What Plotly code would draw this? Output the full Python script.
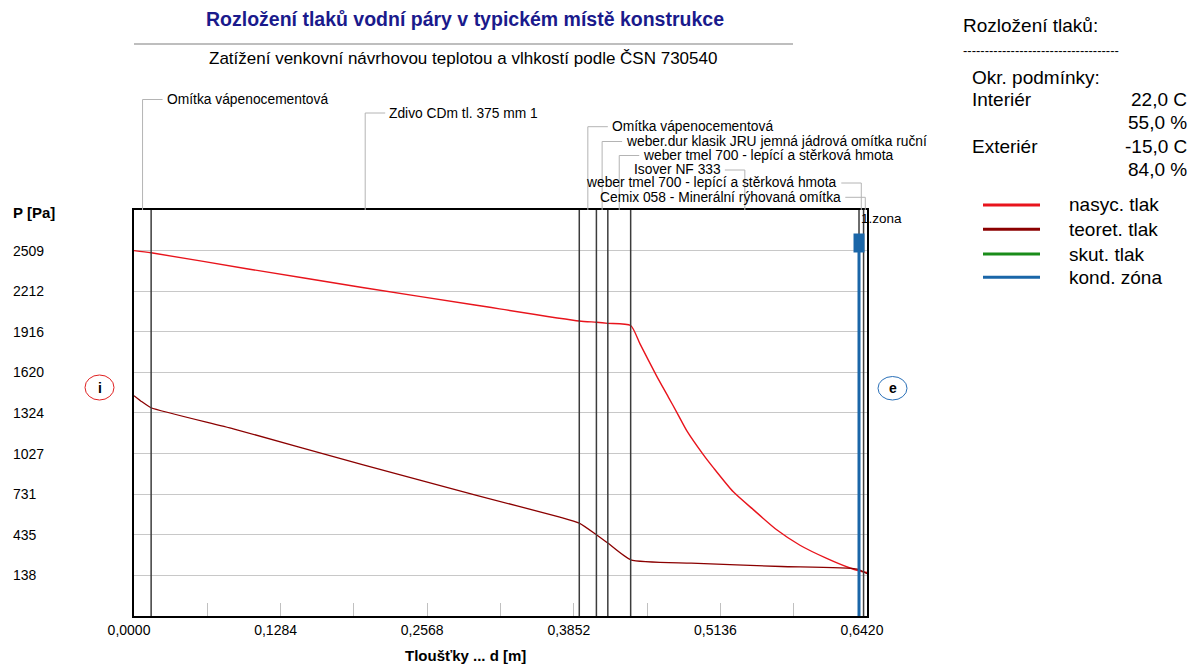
import plotly.graph_objects as go

# ---------------- data ----------------
layer_names = [
    "Omítka vápenocementová",
    "Zdivo CDm tl. 375 mm 1",
    "Omítka vápenocementová",
    "weber.dur klasik JRU jemná jádrová omítka ruční",
    "weber tmel 700 - lepící a stěrková hmota",
    "Isover NF 333",
    "weber tmel 700 - lepící a stěrková hmota",
    "Cemix 058 - Minerální rýhovaná omítka",
]
layer_thickness = [0.015, 0.375, 0.015, 0.010, 0.020, 0.200, 0.004, 0.003]

x_tick_vals = [0.0, 0.1284, 0.2568, 0.3852, 0.5136, 0.6420]
x_tick_text = ["0,0000", "0,1284", "0,2568", "0,3852", "0,5136", "0,6420"]
x_minor_step = 0.0642
y_tick_vals = [138, 435, 731, 1027, 1324, 1620, 1916, 2212, 2509]

nasyc_x = [0.0, 0.015, 0.1, 0.2, 0.3, 0.39, 0.405, 0.415, 0.435, 0.4432, 0.4578,
           0.468, 0.4753, 0.4841, 0.4986, 0.5074, 0.5249, 0.5424, 0.5629, 0.5833,
           0.6067, 0.6271, 0.635, 0.642]
nasyc_p = [2509, 2493, 2375, 2240, 2110, 1995, 1986, 1978, 1962, 1828, 1593,
           1440, 1330, 1195, 1020, 925, 748, 618, 471, 358,
           262, 192, 172, 159]

teoret_x = [0.0, 0.007, 0.015, 0.087, 0.2, 0.3, 0.373, 0.39, 0.405, 0.415, 0.435,
            0.488, 0.567, 0.6335, 0.642]
teoret_p = [1450, 1405, 1362, 1208, 947, 722, 564, 520, 435, 374, 252,
            227, 203, 184, 150]

kond_zone_layer = 5          # condensation zone at outer face of this layer
interior_T, interior_RH = 22.0, 55.0
exterior_T, exterior_RH = -15.0, 84.0

legend_names = ["nasyc. tlak", "teoret. tlak", "skut. tlak", "kond. zóna"]
legend_colors = ["#e8141c", "#8b0000", "#1a8c1a", "#1a66a8"]

# ---------------- layout helpers ----------------
W, H = 1192, 666
L, R, T, B = 134, 867, 210, 616
FONT = "Liberation Sans, Arial, sans-serif"


def fx(p):
    return (p - L) / (R - L)


def fy(p):
    return (B - p) / (B - T)


def cz(v, unit):
    return f"{v:.1f}".replace(".", ",") + " " + unit


bounds = [0.0]
for t in layer_thickness:
    bounds.append(bounds[-1] + t)
mids = [(bounds[i] + bounds[i + 1]) / 2 for i in range(len(layer_thickness))]
kond_x = bounds[kond_zone_layer + 1]

ystep = (max(y_tick_vals) - min(y_tick_vals)) / (len(y_tick_vals) - 1)
yrange = [min(y_tick_vals) - ystep, max(y_tick_vals) + ystep]

fig = go.Figure()

shapes = []
annotations = []

# layer boundaries
for bx in bounds[1:-1]:
    shapes.append(dict(type="line", xref="x", yref="paper", x0=bx, x1=bx, y0=0, y1=1,
                       line=dict(color="#3c3c3c", width=1.5), layer="above"))

# curves
fig.add_trace(go.Scatter(x=nasyc_x, y=nasyc_p, mode="lines",
                         line=dict(color=legend_colors[0], width=1.4, shape="spline",
                                   smoothing=0.6), showlegend=False))
fig.add_trace(go.Scatter(x=teoret_x, y=teoret_p, mode="lines",
                         line=dict(color=legend_colors[1], width=1.3, shape="spline",
                                   smoothing=0.5), showlegend=False))

# condensation zone
shapes.append(dict(type="line", xref="x", yref="paper", x0=kond_x, x1=kond_x,
                   y0=0, y1=fy(252), line=dict(color=legend_colors[3], width=3), layer="above"))
shapes.append(dict(type="line", xref="x", yref="paper", x0=kond_x, x1=kond_x,
                   y0=fy(252.5), y1=fy(233.5), line=dict(color=legend_colors[3], width=11),
                   layer="above"))
annotations.append(dict(text="1.zona", xref="x", yref="paper", x=kond_x, y=fy(218),
                        xanchor="left", yanchor="middle", xshift=0, showarrow=False,
                        font=dict(family=FONT, size=13.5, color="black")))

# layer labels with leader lines
label_y = [99.5, 113, 126.7, 141.5, 155.5, 170, 183, 197.3]
label_side = ["r", "r", "r", "r", "r", "l", "l", "l"]
lead_len = 20
for name, m, ly, side in zip(layer_names, mids, label_y, label_side):
    shapes.append(dict(type="line", xref="x", yref="paper", x0=m, x1=m, y0=1, y1=fy(ly),
                       line=dict(color="#b4b4b4", width=1)))
    sgn = 1 if side == "r" else -1
    shapes.append(dict(type="line", xref="x", xsizemode="pixel", xanchor=m,
                       x0=0, x1=sgn * lead_len, yref="paper", y0=fy(ly), y1=fy(ly),
                       line=dict(color="#b4b4b4", width=1)))
    annotations.append(dict(text=name, xref="x", yref="paper", x=m, y=fy(ly),
                            xanchor="left" if side == "r" else "right", yanchor="middle",
                            xshift=sgn * (lead_len + 2), showarrow=False,
                            font=dict(family=FONT, size=13.8, color="black")))

# y tick labels (left aligned far from axis)
for v in y_tick_vals:
    annotations.append(dict(text=str(v), xref="paper", yref="y", x=fx(11), y=v,
                            xanchor="left", yanchor="middle", showarrow=False,
                            font=dict(family=FONT, size=14, color="black")))
annotations.append(dict(text="<b>P [Pa]</b>", xref="paper", yref="paper", x=fx(11), y=fy(212),
                        xanchor="left", yanchor="middle", showarrow=False,
                        font=dict(family=FONT, size=15, color="black")))
annotations.append(dict(text="<b>Tloušťky ... d [m]</b>", xref="paper", yref="paper",
                        x=fx(465), y=fy(655.5), xanchor="center", yanchor="middle",
                        showarrow=False, font=dict(family=FONT, size=15, color="black")))

# titles
annotations.append(dict(text="<b>Rozložení tlaků vodní páry v typickém místě konstrukce</b>",
                        xref="paper", yref="paper", x=fx(465), y=fy(19), xanchor="center",
                        yanchor="middle", showarrow=False,
                        font=dict(family=FONT, size=19.5, color="#1a1a8c")))
shapes.append(dict(type="line", xref="paper", yref="paper", x0=0, x1=fx(793),
                   y0=fy(44), y1=fy(44), line=dict(color="#a8a8a8", width=1.5)))
annotations.append(dict(text="Zatížení venkovní návrhovou teplotou a vlhkostí podle ČSN 730540",
                        xref="paper", yref="paper", x=fx(463), y=fy(58), xanchor="center",
                        yanchor="middle", showarrow=False,
                        font=dict(family=FONT, size=17, color="black")))

# i / e markers
shapes.append(dict(type="circle", xref="paper", yref="paper", x0=fx(85), x1=fx(114),
                   y0=fy(400), y1=fy(375), line=dict(color="#e02020", width=1)))
annotations.append(dict(text="<b>i</b>", xref="paper", yref="paper", x=fx(99.5), y=fy(388),
                        xanchor="center", yanchor="middle", showarrow=False,
                        font=dict(family=FONT, size=14, color="black")))
shapes.append(dict(type="circle", xref="paper", yref="paper", x0=fx(878), x1=fx(907),
                   y0=fy(400), y1=fy(376.5), line=dict(color="#2a70b8", width=1)))
annotations.append(dict(text="<b>e</b>", xref="paper", yref="paper", x=fx(892.5), y=fy(388),
                        xanchor="center", yanchor="middle", showarrow=False,
                        font=dict(family=FONT, size=14, color="black")))

# right panel
PF = dict(family=FONT, size=19, color="black")


def txt(s, xp, yp, anchor="left", font=PF):
    annotations.append(dict(text=s, xref="paper", yref="paper", x=fx(xp), y=fy(yp),
                            xanchor=anchor, yanchor="middle", showarrow=False, font=font))


txt("Rozložení tlaků:", 961, 25)
txt("-" * 36, 961, 50, font=dict(family=FONT, size=13, color="black"))
txt("Okr. podmínky:", 970, 77.3)
txt("Interiér", 970, 99.3)
txt(cz(interior_T, "C"), 1189, 99.3, "right")
txt(cz(interior_RH, "%"), 1189, 122.7, "right")
txt("Exteriér", 970, 146.7)
txt(cz(exterior_T, "C"), 1189, 146.7, "right")
txt(cz(exterior_RH, "%"), 1189, 170, "right")

leg_y = [205, 229.3, 254, 277.3]
for name, col, ly in zip(legend_names, legend_colors, leg_y):
    shapes.append(dict(type="line", xref="paper", yref="paper", x0=fx(983), x1=fx(1040),
                       y0=fy(ly), y1=fy(ly), line=dict(color=col, width=3)))
    txt(name, 1067, ly)

fig.update_layout(
    width=W, height=H,
    margin=dict(l=L, r=W - R, t=T, b=H - B, pad=0),
    paper_bgcolor="white", plot_bgcolor="white",
    showlegend=False,
    shapes=shapes, annotations=annotations,
    font=dict(family=FONT, size=14, color="black"),
)
fig.update_xaxes(
    range=[0, bounds[-1]], showgrid=False, zeroline=False,
    showline=True, mirror=True, linecolor="black", linewidth=2,
    tickmode="array", tickvals=x_tick_vals, ticktext=x_tick_text,
    ticks="inside", ticklen=13, tickcolor="#c0c0c0", tickwidth=1,
    tickfont=dict(family=FONT, size=14, color="black"),
    ticklabelshift=-5, ticklabelstandoff=0,
    minor=dict(ticks="inside", ticklen=13, tickcolor="#c0c0c0", tickwidth=1,
               dtick=x_minor_step, tick0=0, showgrid=False),
)
fig.update_yaxes(
    range=yrange, showgrid=True, gridcolor="#c8c8c8", gridwidth=1, zeroline=False,
    showline=True, mirror=True, linecolor="black", linewidth=2,
    tickmode="array", tickvals=y_tick_vals, showticklabels=False, ticks="",
)

fig.write_html("out.html", config={"displayModeBar": False})
